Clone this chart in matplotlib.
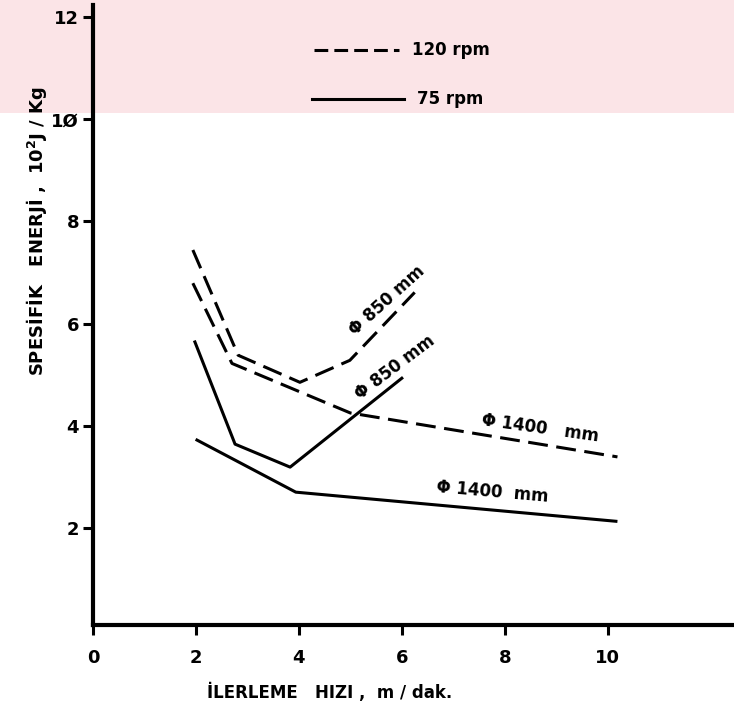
"""Spesifik enerji - ilerleme hizi grafiği (taranmış şeklin yeniden çizimi)."""

import matplotlib

matplotlib.use("Agg")

import matplotlib.pyplot as plt
from matplotlib.patches import Rectangle

plt.rcParams["font.family"] = ["DejaVu Sans Condensed", "DejaVu Sans"]
plt.rcParams["font.weight"] = "bold"

# 120 rpm (kesikli çizgiler)
x_120_850 = [1.94, 2.82, 4.02, 4.99, 6.25]
y_120_850 = [7.44, 5.38, 4.85, 5.28, 6.61]
x_120_1400 = [1.94, 2.70, 5.00, 10.19]
y_120_1400 = [6.79, 5.22, 4.25, 3.39]

# 75 rpm (düz çizgiler)
x_75_850 = [1.98, 2.76, 3.83, 6.00]
y_75_850 = [5.64, 3.64, 3.19, 4.93]
x_75_1400 = [2.02, 3.94, 10.16]
y_75_1400 = [3.72, 2.70, 2.13]

x_ticks = [0, 2, 4, 6, 8, 10]
y_ticks = [2, 4, 6, 8, 10, 12]
y_tick_labels = ["2", "4", "6", "8", "1\u00d8", "12"]

fig = plt.figure(figsize=(7.34, 7.05), dpi=100)

# pembe filigran bandı (taramadaki üst şerit)
band = Rectangle((0, 0.84), 1, 0.16, transform=fig.transFigure,
                 facecolor="#fbe4e7", edgecolor="none", zorder=-10)
fig.patches.append(band)

ax = fig.add_axes([0.1267, 0.1135, 0.873, 0.879])
ax.set_zorder(1)
ax.patch.set_alpha(0)
ax.set_xlim(0, 12.45)
ax.set_ylim(0.1, 12.23)

for side in ["top", "right"]:
    ax.spines[side].set_visible(False)
for side in ["left", "bottom"]:
    ax.spines[side].set_linewidth(3)

ax.set_xticks(x_ticks)
ax.set_xticklabels([str(v) for v in x_ticks])
ax.set_yticks(y_ticks)
ax.set_yticklabels(y_tick_labels)
ax.tick_params(axis="both", direction="out", length=7, width=2.2,
               labelsize=13, pad=10)
ax.tick_params(axis="y", pad=3)

dash = (0, (6.5, 2.8))
lw = 2.2
ax.plot(x_120_850, y_120_850, color="black", lw=lw, linestyle=dash)
ax.plot(x_120_1400, y_120_1400, color="black", lw=lw, linestyle=dash)
ax.plot(x_75_850, y_75_850, color="black", lw=lw)
ax.plot(x_75_1400, y_75_1400, color="black", lw=lw)

# eğri etiketleri
ax.text(5.72, 6.46, "\u03a6 850 mm", rotation=42, fontsize=12, ha="center", va="center")
ax.text(5.86, 5.15, "\u03a6 850 mm", rotation=37, fontsize=12, ha="center", va="center")
ax.text(8.68, 3.95, "\u03a6 1400   mm", rotation=-8, fontsize=12, ha="center", va="center")
ax.text(7.77, 2.70, "\u03a6 1400  mm", rotation=-5, fontsize=12, ha="center", va="center")

# açıklama
ax.plot([4.3, 5.95], [11.35, 11.35], color="black", lw=lw, linestyle=(0, (4.5, 2)),
        clip_on=False)
ax.text(6.2, 11.35, "120 rpm", fontsize=12, va="center")
ax.plot([4.25, 6.05], [10.4, 10.4], color="black", lw=lw, clip_on=False)
ax.text(6.3, 10.4, "75 rpm", fontsize=12, va="center")

ax.set_xlabel("\u0130LERLEME   HIZI ,  m / dak.", fontsize=12, fontweight="bold",
              labelpad=12, x=0.37)
ax.set_ylabel("SPES\u0130F\u0130K   ENERJ\u0130 ,  10$^{2}$J / Kg", fontsize=13,
              fontweight="bold", labelpad=2, y=0.635)

fig.savefig("out.png", dpi=100)
